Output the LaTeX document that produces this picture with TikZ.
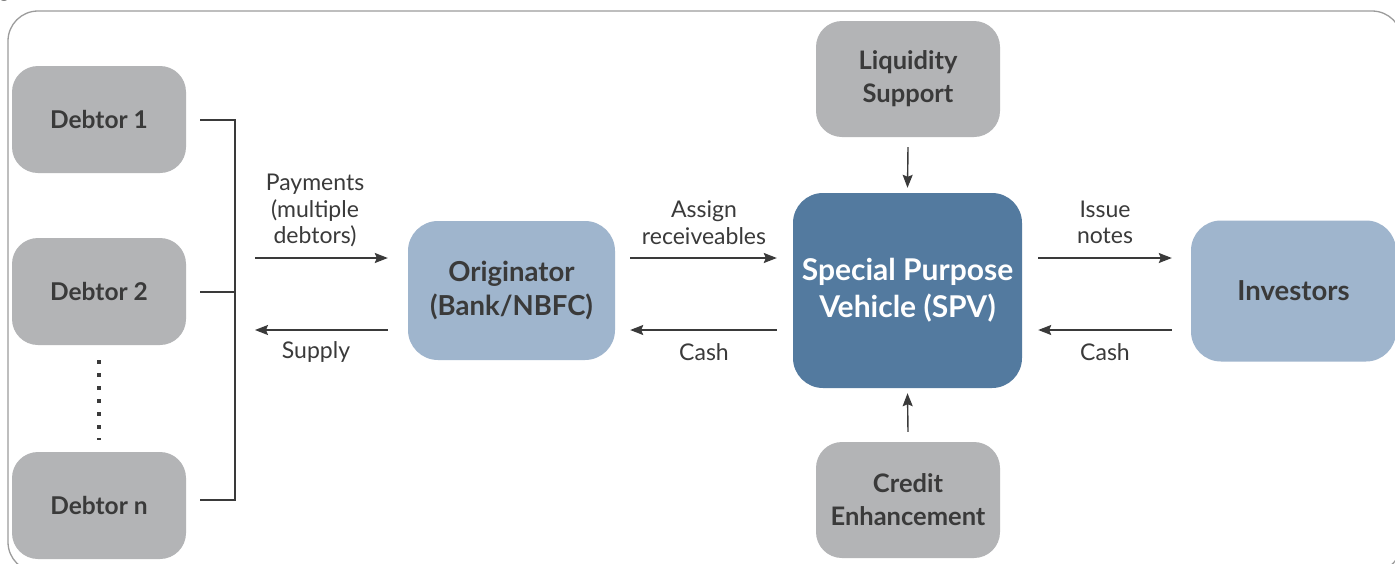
\documentclass[tikz,border=0pt]{standalone}
\usepackage{fontspec}
\setmainfont{Lato}
\usetikzlibrary{arrows.meta}
\definecolor{boxgray}{HTML}{B3B4B6}
\definecolor{lightblue}{HTML}{9FB5CD}
\definecolor{spvblue}{HTML}{537A9F}
\definecolor{txt}{HTML}{3A3A3A}
\definecolor{framegray}{HTML}{9C9C9C}
\begin{document}
\begin{tikzpicture}[x=1pt,y=1pt,
  box/.style={rounded corners=26pt, inner sep=0pt, align=center, text=txt,
    font=\bfseries\fontsize{24.5}{33}\selectfont},
  graybox/.style={box, fill=boxgray, minimum width=174pt, minimum height=107pt},
  sidebox/.style={box, fill=boxgray, minimum width=184pt, minimum height=116pt,
    font=\bfseries\fontsize{25.5}{33}\selectfont},
  bluebox/.style={box, fill=lightblue, rounded corners=30pt,
    font=\bfseries\fontsize{27.5}{34}\selectfont},
  spvbox/.style={box, fill=spvblue, rounded corners=30pt, text=white,
    minimum width=229pt, minimum height=195pt, font=\bfseries\fontsize{30}{37}\selectfont},
  arr/.style={draw=txt, line width=1.4pt, -{Stealth[length=13pt,width=10pt,inset=2pt]}},
  bracket/.style={draw=txt, line width=1.4pt},
  lbl/.style={font=\fontsize{23}{26.5}\selectfont, text=txt, align=center, inner sep=0pt},
]
\useasboundingbox (0,0) rectangle (1395,-563);
\clip (0,0) rectangle (1395,-563);
\fill[white] (0,0) rectangle (1395,-563);
% frame
\draw[framegray, line width=1.3pt, rounded corners=30pt] (8,-11) rectangle (1402,-572);
\node[text=txt, font=\fontsize{20}{24}\selectfont, inner sep=0pt, anchor=base west] (cap) at (-1,3) {g};

% debtors
\node[graybox] (d1) at (99,-119.5) {Debtor 1};
\node[graybox] (d2) at (99,-291.5) {Debtor 2};
\node[graybox] (dn) at (99,-505.5) {Debtor n};
\draw[txt, line width=4pt, dash pattern=on 4pt off 9pt] ([yshift=-15pt]d2.south) -- ([yshift=12pt]dn.north);

% bracket
\coordinate (bt) at (235,-120);
\coordinate (bm) at (235,-292);
\coordinate (bb) at (235,-500);
\draw[bracket] ([xshift=14pt]d1.east |- bt) -- (bt) -- (bb) -- ([xshift=14pt]dn.east |- bb);
\draw[bracket] ([xshift=14pt]d2.east |- bm) -- (bm);

% main boxes
\node[bluebox, minimum width=207pt, minimum height=139pt] (orig) at (511.5,-290.5) {Originator\\(Bank/NBFC)};
\node[spvbox] (spv) at (907.5,-290.5) {Special Purpose\\Vehicle (SPV)};
\node[bluebox, minimum width=205pt, minimum height=141pt] (inv) at (1293.5,-291) {Investors};
\node[sidebox] (liq) at (908,-79) {Liquidity\\Support};
\node[sidebox] (cred) at (908,-500) {Credit\\Enhancement};

% arrows debtors <-> originator
\coordinate (pa) at (255,-258);
\coordinate (sa) at (255,-330);
\draw[arr] (pa) -- ([xshift=-20pt]orig.west |- pa);
\draw[arr] ([xshift=-20pt]orig.west |- sa) -- (sa);
\node[lbl] (lp) at (315,-210.5) {Payments\\(multiple\\debtors)};
\node[lbl] (ls) at (316,-352) {Supply};

% originator <-> spv
\draw[arr] ([xshift=15pt]orig.east |- pa) -- ([xshift=-16pt]spv.west |- pa);
\draw[arr] ([xshift=-16pt]spv.west |- sa) -- ([xshift=15pt]orig.east |- sa);
\node[lbl] (la) at (704,-222.5) {Assign\\receiveables};
\node[lbl] (lc1) at (704,-352) {Cash};

% spv <-> investors
\draw[arr] ([xshift=16pt]spv.east |- pa) -- ([xshift=-19pt]inv.west |- pa);
\draw[arr] ([xshift=-19pt]inv.west |- sa) -- ([xshift=16pt]spv.east |- sa);
\node[lbl] (li) at (1105,-222.5) {Issue\\notes};
\node[lbl] (lc2) at (1105,-352) {Cash};

% vertical arrows
\draw[arr] ([yshift=-10pt]liq.south) -- ([yshift=5pt]spv.north);
\draw[arr] ([yshift=10pt]cred.north) -- ([yshift=-5pt]spv.south);
\end{tikzpicture}
\end{document}
